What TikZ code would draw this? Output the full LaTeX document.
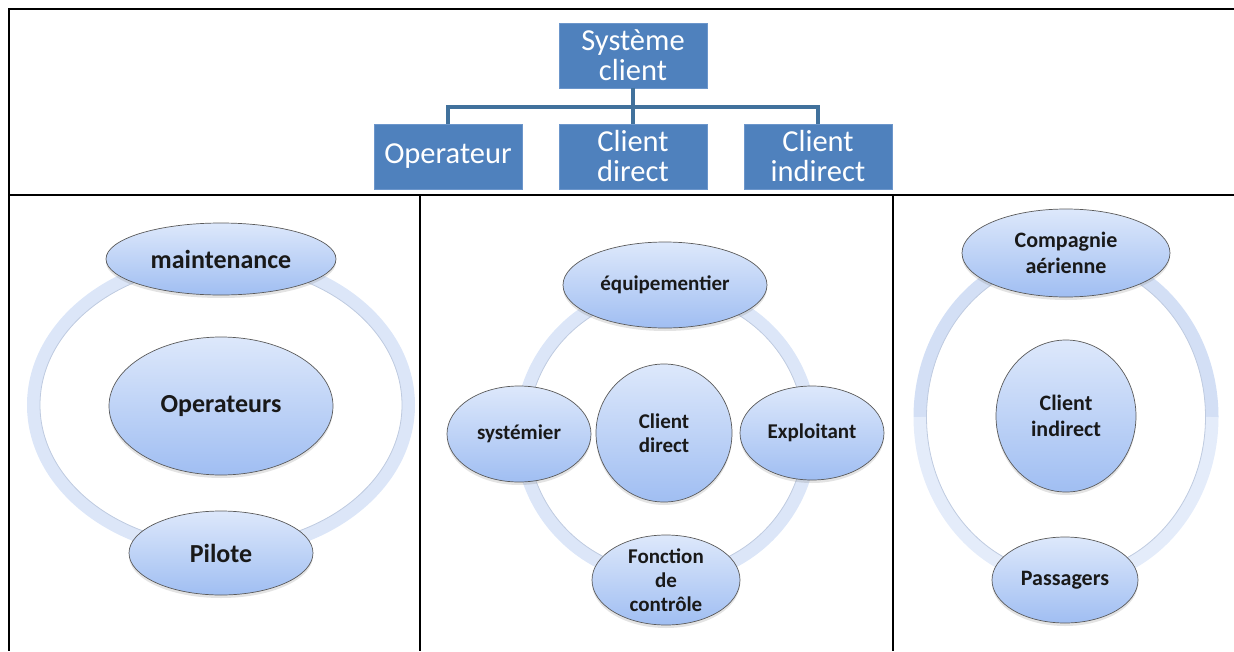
\documentclass[tikz,border=0pt]{standalone}
\usepackage{fontspec}
\setmainfont{Carlito}
\usetikzlibrary{shapes.geometric,shadows}
\definecolor{boxblue}{HTML}{4F81BD}
\definecolor{boxedge}{HTML}{6C96CB}
\definecolor{conn}{HTML}{41719C}
\definecolor{bubtop}{HTML}{DDE8FB}
\definecolor{bubbot}{HTML}{A0BEF2}
\definecolor{bubedge}{HTML}{5A5A5A}
\definecolor{ringc}{HTML}{DCE6F8}
\definecolor{ringdark}{HTML}{D3DFF5}
\definecolor{ringlight}{HTML}{E4ECFA}
\definecolor{ringedge}{HTML}{BFCBE0}
\begin{document}
\begin{tikzpicture}[x=1pt,y=-1pt,
 topbox/.style={rectangle, fill=boxblue, draw=boxedge, line width=0.8pt, minimum width=148pt, minimum height=65pt, inner sep=0pt, text=white, align=center, font=\fontsize{30.5}{30}\selectfont},
 conline/.style={draw=conn, line width=3.5pt},
 bub/.style={ellipse, draw=bubedge, line width=0.7pt, top color=bubtop, bottom color=bubbot, inner sep=0pt, align=center, text=black!90, drop shadow={shadow xshift=0pt, shadow yshift=-3pt, opacity=0.22}},
 bigtxt/.style={font=\bfseries\fontsize{26}{28}\selectfont},
 midtxt/.style={font=\bfseries\fontsize{21}{24}\selectfont},
 rtxt/.style={font=\bfseries\fontsize{22}{26}\selectfont},
 ring/.style={draw=ringc, line width=13pt},
 ringin/.style={draw=ringedge, line width=0.8pt},
 gridline/.style={draw=black, line width=2pt},
]
\useasboundingbox (0,0) rectangle (1234,651);
% table grid
\draw[gridline] (8.5,9) -- (1234,9);
\draw[gridline] (8.5,8) -- (8.5,651);
\draw[gridline] (8.5,195) -- (1234,195);
\draw[gridline] (420,195) -- (420,651);
\draw[gridline] (893,195) -- (893,651);
% top hierarchy
\node[topbox] (sys) at (633,55.5) {Système\\client};
\node[topbox] (op) at (448,156.5) {Operateur};
\node[topbox] (cdir) at (633,156.5) {Client\\direct};
\node[topbox] (cind) at (818,156.5) {Client\\indirect};
\coordinate (jn) at (633,107);
\draw[conline] (sys.south) -- (jn);
\draw[conline, line join=miter] (op.north) |- (jn) -| (cind.north);
\draw[conline] (jn) -- (cdir.north);
% left panel
\draw[ring] (221,405) ellipse [x radius=187.5, y radius=146];
\draw[ringin] (221,405) ellipse [x radius=181, y radius=139.5];
\node[bub, bigtxt, minimum width=230pt, minimum height=72pt] (maint) at (221,259) {maintenance};
\node[bub, bigtxt, minimum width=224pt, minimum height=138pt] (oper) at (221,406) {Operateurs};
\node[bub, bigtxt, minimum width=184pt, minimum height=84pt] (pil) at (221,553) {Pilote};
% middle panel
\draw[ring] (666,433) circle [radius=145];
\draw[ringin] (666,433) circle [radius=138.5];
\node[bub, midtxt, minimum width=204pt, minimum height=86pt] (equip) at (665,285) {équipementier};
\node[bub, midtxt, minimum width=144pt, minimum height=96pt] (syst) at (519,434) {systémier};
\node[bub, midtxt, minimum width=144pt, minimum height=94pt] (expl) at (812,433) {Exploitant};
\node[bub, midtxt, minimum width=148pt, minimum height=90pt, inner sep=-8pt] (fc) at (666,580) {Fonction\\de\\contrôle};
\node[bub, midtxt, minimum width=136pt, minimum height=138pt] (cd) at (664,433) {Client\\direct};
% right panel
\draw[draw=ringdark, line width=13pt] (920,417) arc[start angle=180, end angle=360, x radius=146, y radius=163];
\draw[draw=ringlight, line width=13pt] (920,417) arc[start angle=180, end angle=0, x radius=146, y radius=163];
\draw[ringin] (1066,417) ellipse [x radius=139.5, y radius=156.5];
\node[bub, rtxt, minimum width=208pt, minimum height=88pt] (comp) at (1066,253) {Compagnie\\aérienne};
\node[bub, rtxt, minimum width=140pt, minimum height=152pt] (ci) at (1066,416) {Client\\indirect};
\node[bub, rtxt, minimum width=146pt, minimum height=86pt] (pass) at (1065,580) {Passagers};
\end{tikzpicture}
\end{document}
